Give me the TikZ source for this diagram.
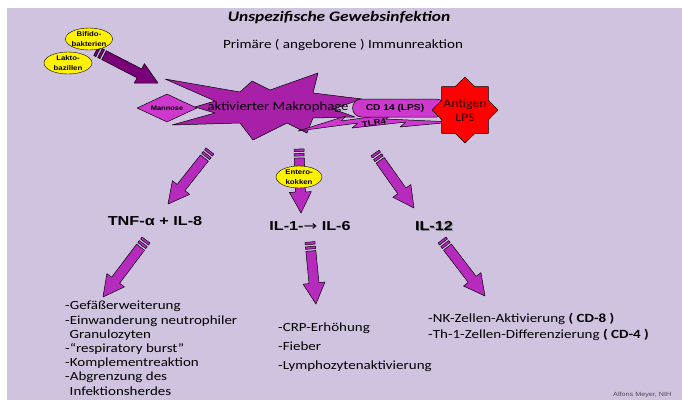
\documentclass[tikz,border=0pt]{standalone}
\usepackage{fontspec}
\setmainfont{Carlito}
\newfontfamily\arialfont{Liberation Sans}
\newfontfamily\symfont{DejaVu Sans}
\usepackage{tikz}
\usetikzlibrary{calc,shapes.geometric}

\definecolor{flieder}{RGB}{207,195,223}
\definecolor{violett}{RGB}{168,32,168}
\definecolor{pink1}{RGB}{182,42,190}
\definecolor{pink2}{RGB}{206,56,206}
\definecolor{dunkel}{RGB}{122,0,122}

% block arrow with striped tail: style, tail, tip
\newcommand{\fatarrow}[3]{%
  \draw[#1]
    ($(#2)!0pt!(#3)!5pt!90:(#3)$) -- ($(#2)!2.5pt!(#3)!5pt!90:(#3)$) --
    ($(#2)!2.5pt!(#3)!5pt!-90:(#3)$) -- ($(#2)!0pt!(#3)!5pt!-90:(#3)$) -- cycle
    ($(#2)!4.5pt!(#3)!5pt!90:(#3)$) -- ($(#2)!7pt!(#3)!5pt!90:(#3)$) --
    ($(#2)!7pt!(#3)!5pt!-90:(#3)$) -- ($(#2)!4.5pt!(#3)!5pt!-90:(#3)$) -- cycle
    ($(#2)!9pt!(#3)!5pt!90:(#3)$) -- ($(#3)!21pt!(#2)!5pt!-90:(#2)$) --
    ($(#3)!21pt!(#2)!11pt!-90:(#2)$) -- (#3) --
    ($(#3)!21pt!(#2)!11pt!90:(#2)$) -- ($(#3)!21pt!(#2)!5pt!90:(#2)$) --
    ($(#2)!9pt!(#3)!5pt!-90:(#3)$) -- cycle;}

\begin{document}
\begin{tikzpicture}[x=1pt,y=-1pt,line join=round]
	\tikzstyle{breit}=[xscale=1.2];
	\tikzstyle{keim}=[ellipse,draw,fill=yellow,inner sep=0pt];
	\tikzstyle{keimtext}=[align=center,inner sep=0pt,xscale=1.15,font=\arialfont\bfseries\fontsize{6.8}{10}\selectfont];
	\tikzstyle{pfeil}=[draw=black,line width=0.5pt,fill=pink1];
	\tikzstyle{zelle}=[draw=black,line width=0.5pt,fill=pink2];
	\tikzstyle{ilabel}=[xscale=1.25,font=\arialfont\bfseries\fontsize{13}{15}\selectfont];
	\tikzstyle{liste}=[breit,anchor=north west,inner sep=0pt,align=left];

	\useasboundingbox (0,0) rectangle (682,400);
	\fill[flieder] (7,8) rectangle (682,400);

	% titles
	\node[breit,font=\bfseries\itshape\fontsize{14.5}{17}\selectfont] (titel) at (339,18) {Unspezifische Gewebsinfektion};
	\node[breit,font=\fontsize{12.6}{15}\selectfont] (unter) at (343,45) {Primäre ( angeborene ) Immunreaktion};

	% bacteria feeding the macrophage
	\coordinate (d0) at (96,51);
	\coordinate (d1) at (158,83);
	\fatarrow{draw=black,line width=0.5pt,fill=dunkel}{d0}{d1}
	\node[keim,minimum width=47pt,minimum height=22pt] (bifido) at (89,39) {};
	\node[keimtext] at (bifido) {Bifido-\\bakterien};
	\node[keim,minimum width=48pt,minimum height=22pt] (lakto) at (68,63) {};
	\node[keimtext] at (lakto) {Lakto-\\bazillen};

	% activated macrophage
	\draw[draw=black,line width=0.5pt,fill=violett] (165,79) -- (240,92) -- (252,81) -- (270,90) -- (318,73) -- (313,93)
		-- (362,99) -- (333,109) -- (355,117) -- (313,118) -- (307,133) -- (287,123) -- (253,140) -- (240,123)
		-- (172,125) -- (215,113) -- (195,107) -- (215,101) -- cycle;
	\node[zelle,diamond,minimum width=60pt,minimum height=28pt,inner sep=0pt] (mannose) at (167,108) {};
	\node[xscale=1.15,font=\arialfont\bfseries\fontsize{6.5}{8}\selectfont] at (mannose) {Mannose};
	\node[breit,font=\fontsize{12.3}{15}\selectfont] (makro) at (278,107) {aktivierter Makrophage};

	% receptors
	\draw[zelle] (298,131) -- (346,116) -- (341,121) -- (392,114) -- (386,119) -- (453,122) -- (400,127)
		-- (406,122) -- (352,128) -- (358,123) -- cycle;
	\node[font=\arialfont\bfseries\fontsize{8}{10}\selectfont,xscale=1.2,rotate=9] (tlr) at (374,123) {TLR4};
	\node[zelle,minimum width=93pt,minimum height=18pt,rounded corners=9pt,inner sep=0pt] (cd) at (399,108) {};
	\node[xscale=1.2,font=\arialfont\bfseries\fontsize{8.5}{10}\selectfont] (cdtext) at (395,108) {CD 14 (LPS)};
	\node[star,star points=8,star point ratio=1.3,minimum size=66pt,inner sep=0pt,draw=black,line width=0.5pt,fill=red] (antigen) at (465,110) {};
	\node[xscale=1.15,align=center,text=black!80!red,font=\fontsize{12}{14}\selectfont] at (antigen) {Antigen\\LPS};

	% first row of arrows
	\coordinate (a0) at (210,151);
	\coordinate (a1) at (168,204);
	\coordinate (b0) at (299,149);
	\coordinate (b1) at (301,213);
	\coordinate (c0) at (375,153);
	\coordinate (c1) at (414,208);
	\fatarrow{pfeil}{a0}{a1}
	\fatarrow{pfeil}{b0}{b1}
	\fatarrow{pfeil}{c0}{c1}
	\node[keim,minimum width=46pt,minimum height=22pt] (entero) at (299,177) {};
	\node[keimtext] at (entero) {Entero-\\kokken};

	% cytokines
	\node[ilabel] (tnf) at (155,221) {TNF-α + IL-8};
	\node[ilabel] (il1) at (310,226) {IL-1-{\symfont\mdseries →} IL-6};
	\node[ilabel,text=gray] at (434.8,226.8) {IL-12};
	\node[ilabel] (il12) at (434,226) {IL-12};

	% second row of arrows
	\coordinate (e0) at (146,240);
	\coordinate (e1) at (103,297);
	\coordinate (f0) at (310,242);
	\coordinate (f1) at (316,304);
	\coordinate (g0) at (442,240);
	\coordinate (g1) at (485,296);
	\fatarrow{pfeil}{e0}{e1}
	\fatarrow{pfeil}{f0}{f1}
	\fatarrow{pfeil}{g0}{g1}

	% effects
	\node[liste,font=\fontsize{12.5}{14.2}\selectfont] (wirk1) at (65,301) {-Gefäßerweiterung\\-Einwanderung neutrophiler\\\hspace{0.3em}Granulozyten\\-“respiratory burst”\\-Komplementreaktion\\-Abgrenzung des\\\hspace{0.3em}Infektionsherdes};
	\node[liste,font=\fontsize{12.5}{18.6}\selectfont] (wirk2) at (278,323) {-CRP-Erhöhung\\-Fieber\\-Lymphozytenaktivierung};
	\node[liste,font=\fontsize{12.5}{16.5}\selectfont] (wirk3) at (428,313) {-NK-Zellen-Aktivierung \textbf{( CD-8 )}\\-Th-1-Zellen-Differenzierung \textbf{( CD-4 )}};

	\node[anchor=north west,inner sep=0pt,xscale=1.2,font=\arialfont\fontsize{6}{7}\selectfont,text=black!70] (quelle) at (613,392) {Alfons Meyer, NIH};
\end{tikzpicture}
\end{document}
